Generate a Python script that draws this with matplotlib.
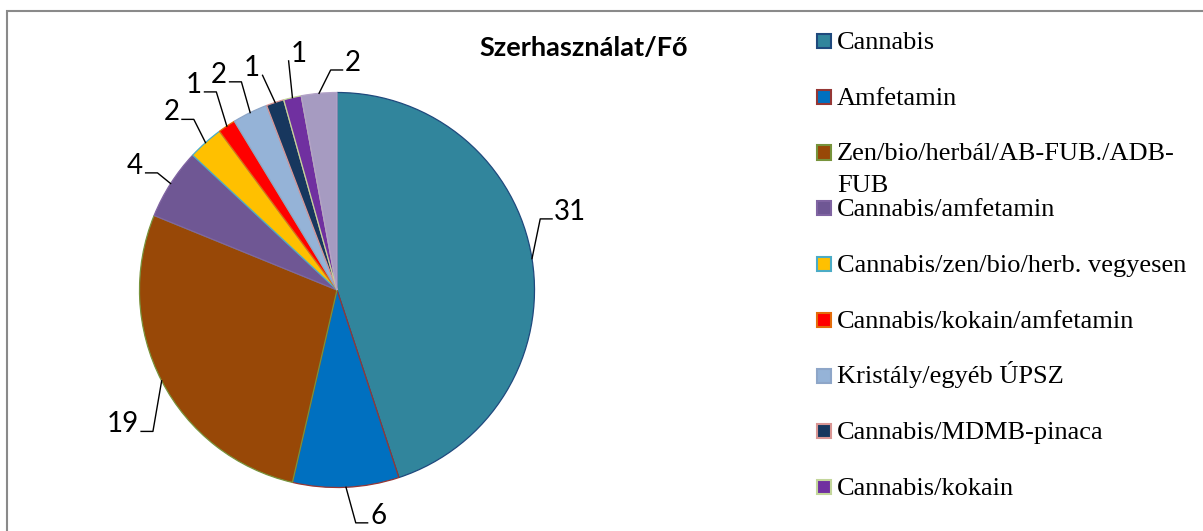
import matplotlib
matplotlib.use("Agg")
import matplotlib.pyplot as plt
import numpy as np
from matplotlib.patches import Rectangle

# data
categories = ["Cannabis", "Amfetamin", "Zen/bio/herbál/AB-FUB./ADB-\nFUB",
              "Cannabis/amfetamin", "Cannabis/zen/bio/herb. vegyesen",
              "Cannabis/kokain/amfetamin", "Kristály/egyéb ÚPSZ",
              "Cannabis/MDMB-pinaca", "Cannabis/kokain", ""]
values = [31, 6, 19, 4, 2, 1, 2, 1, 1, 2]

fills = ["#31859C", "#0070C0", "#984807", "#6F5794", "#FFC000",
         "#FF0000", "#95B3D7", "#17375E", "#7030A0", "#A69BC1"]
edges = ["#1F497D", "#953735", "#77933C", "#8064A2", "#4BACC6",
         "#E46C0A", "#8EA6C8", "#D99694", "#C3D69B", "#B3A2C7"]

# label text positions, in pie radius units
label_pos = [(1.180, 0.395), (0.208, -1.144), (-1.083, -0.681), (-1.022, 0.628),
             (-0.838, 0.899), (-0.724, 1.038), (-0.597, 1.089), (-0.430, 1.122),
             (-0.192, 1.195), (0.081, 1.149)]

W, H = 1203, 531
cx, cy, R = 337, 290, 197.5

fig = plt.figure(figsize=(W / 100, H / 100), dpi=100)
ax = fig.add_axes([0, 0, 1, 1])

wedges, _ = ax.pie(values, colors=fills, startangle=90, counterclock=False,
                   wedgeprops=dict(linewidth=0.9))
for w, ec in zip(wedges, edges):
    w.set_edgecolor(ec)

ax.set_xlim(-cx / R, (W - cx) / R)
ax.set_ylim(-(H - cy) / R, cy / R)
ax.set_aspect("auto")
ax.axis("off")

# data labels with leader lines
for w, v, (tx, ty) in zip(wedges, values, label_pos):
    th = np.deg2rad((w.theta1 + w.theta2) / 2)
    axx, ayy = np.cos(th), np.sin(th)
    s = str(v)
    ax.text(tx, ty, s, ha="center", va="center", fontsize=20,
            family=["Lato", "DejaVu Sans"])
    hw = 0.038 * len(s)
    ly = ty - 0.035
    side = 1 if tx > axx else -1
    x0 = tx - side * (hw + 0.015)
    x1 = x0 - side * 0.06
    if abs(axx - x0) < 0.08:
        ax.plot([x0, axx], [ly, ayy], color="black", lw=1)
    else:
        ax.plot([x0, x1, axx], [ly, ly, ayy], color="black", lw=1)

# title
fig.text(584 / W, 1 - 48 / H, "Szerhasználat/Fő", ha="center", va="center",
         fontsize=19.5, fontweight="bold", family=["Lato", "DejaVu Sans"])

# legend
pitch = 55.75
line_gap = 32
for i, (name, fc, ec) in enumerate(zip(categories, fills, edges)):
    if not name:
        continue
    yc = 41 + i * pitch
    fig.patches.append(Rectangle((817 / W, 1 - (yc + 7) / H), 14 / W, 14 / H,
                                 transform=fig.transFigure, facecolor=fc,
                                 edgecolor=ec, lw=1.5))
    extra = name.count("\n") * line_gap
    fig.text(837 / W, 1 - (yc + 8 + extra) / H, name, va="baseline", ha="left",
             fontsize=19, linespacing=1.6,
             family=["Liberation Serif", "DejaVu Serif"])

# chart frame
fig.patches.append(Rectangle((7 / W, -0.1), 1.1, (H - 11) / H + 0.1,
                             transform=fig.transFigure, fill=False,
                             edgecolor="#8a8a8a", lw=1.5))

fig.savefig("out.png", dpi=100)
